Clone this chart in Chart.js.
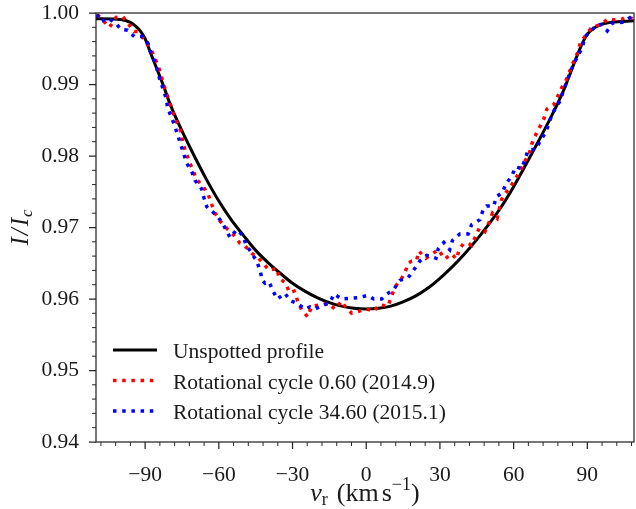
<!DOCTYPE html>
<html><head><meta charset="utf-8">
<script src="https://cdn.jsdelivr.net/npm/chart.js@4.4.1/dist/chart.umd.min.js"></script>
<style>html,body{margin:0;padding:0;background:#fff}#wrap{width:636px;height:509px}</style>
</head><body><div id="wrap"><canvas id="c" width="636" height="509"></canvas></div>
<script>
const seriesLabels = ["Unspotted profile", "Rotational cycle 0.60 (2014.9)", "Rotational cycle 34.60 (2015.1)"];

const unspottedV = [-110,-100,-96,-94,-92,-90,-88,-85,-82.5,-80,-75,-70,-65,-60,-55,-50,-45,-40,-35,-30,-25,-20,-15,-10,-5,0,5,10,15,20,25,30,35,40,45,50,55,60,65,70,75,80,85,88,90,92,95,100,109];
const unspottedI = [0.9992,0.9991,0.9987,0.9982,0.9975,0.9964,0.9946,0.9920,0.9898,0.9874,0.9835,0.9800,0.9767,0.9737,0.9711,0.9689,0.9668,0.9651,0.9636,0.9622,0.9611,0.9602,0.9595,0.9590,0.9587,0.9586,0.9587,0.9590,0.9596,0.9604,0.9615,0.9629,0.9645,0.9663,0.9683,0.9705,0.9729,0.9757,0.9788,0.9820,0.9853,0.9889,0.9933,0.9958,0.9970,0.9977,0.9983,0.9987,0.9989];

const cycle060V = [-109.5,-104.5,-101.8,-99.1,-94.4,-93.0,-89.6,-87.6,-85.8,-84.2,-82.2,-79.4,-78.1,-75.1,-74.7,-72.0,-69.0,-66.3,-64.3,-62.9,-61.5,-59.5,-56.8,-54.1,-51.4,-49.3,-46.6,-43.9,-41.9,-39.5,-36.4,-35.4,-32.7,-31.3,-29.3,-27.9,-26.3,-23.8,-22.2,-18.1,-15.5,-12.7,-10.0,-8.7,-5.9,-2.8,0.2,3.1,5.3,8.9,10.3,11.7,13.7,15.7,17.1,18.5,20.5,21.4,24.3,27.3,29.3,32.0,34.7,36.8,37.8,39.5,41.5,42.9,46.0,48.3,50.0,51.4,53.3,54.1,55.1,56.7,58.7,60.9,62.5,64.2,66.3,67.3,68.6,70.7,72.3,73.6,76.4,79.5,81.5,84.2,86.0,87.2,89.0,91.4,93.7,95.8,98.4,101.9,103.9,105.9,108.4];
const cycle060I = [0.9998,0.9980,0.9994,0.9995,0.9974,0.9974,0.9960,0.9949,0.9935,0.9921,0.9897,0.9869,0.9855,0.9832,0.9818,0.9792,0.9767,0.9757,0.9746,0.9732,0.9720,0.9709,0.9699,0.9690,0.9678,0.9674,0.9664,0.9657,0.9650,0.9640,0.9643,0.9629,0.9622,0.9609,0.9611,0.9597,0.9585,0.9575,0.9590,0.9592,0.9594,0.9586,0.9597,0.9590,0.9580,0.9583,0.9586,0.9583,0.9592,0.9590,0.9604,0.9617,0.9625,0.9636,0.9650,0.9653,0.9654,0.9667,0.9657,0.9664,0.9669,0.9656,0.9663,0.9656,0.9669,0.9677,0.9678,0.9675,0.9699,0.9694,0.9707,0.9720,0.9713,0.9725,0.9739,0.9748,0.9757,0.9769,0.9778,0.9791,0.9802,0.9816,0.9827,0.9841,0.9852,0.9866,0.9872,0.9895,0.9907,0.9930,0.9944,0.9959,0.9967,0.9978,0.9982,0.9984,0.9992,0.9990,0.9991,0.9995,0.9992];

const cycle3460V = [-109.7,-107.9,-105.2,-101.8,-99.8,-97.1,-94.4,-91.0,-88.9,-87.6,-85.8,-84.2,-82.8,-81.5,-80.8,-78.1,-74.4,-73.1,-71.0,-69.7,-67.0,-66.0,-64.9,-60.6,-58.2,-55.4,-52.7,-50.3,-48.9,-46.6,-44.6,-43.2,-42.3,-41.2,-39.5,-38.1,-36.2,-33.1,-31.0,-28.3,-24.9,-22.9,-20.9,-17.7,-14.8,-13.1,-10.0,-6.3,-2.8,0.4,3.1,6.3,8.5,11.3,13.7,17.1,19.4,21.8,24.6,28.4,29.3,31.6,34.0,35.1,38.1,41.5,42.9,46.3,47.6,49.0,51.9,53.0,55.5,56.8,59.1,60.9,63.2,64.6,65.9,69.3,70.9,73.1,74.4,75.8,77.5,79.1,80.1,82.9,84.6,86.0,88.0,89.0,91.3,93.4,95.5,98.1,100.2,104.3,106.6,108.6];
const cycle3460I = [0.9998,0.9988,0.9993,0.9985,0.9977,0.9976,0.9967,0.9967,0.9958,0.9944,0.9930,0.9909,0.9895,0.9881,0.9867,0.9844,0.9804,0.9790,0.9778,0.9766,0.9754,0.9741,0.9729,0.9716,0.9704,0.9686,0.9697,0.9689,0.9676,0.9664,0.9653,0.9640,0.9626,0.9622,0.9624,0.9612,0.9600,0.9608,0.9598,0.9594,0.9586,0.9589,0.9586,0.9591,0.9595,0.9607,0.9600,0.9601,0.9602,0.9605,0.9600,0.9600,0.9607,0.9614,0.9626,0.9630,0.9641,0.9653,0.9661,0.9657,0.9670,0.9679,0.9669,0.9682,0.9691,0.9691,0.9704,0.9711,0.9725,0.9730,0.9730,0.9743,0.9749,0.9761,0.9771,0.9785,0.9782,0.9795,0.9808,0.9810,0.9822,0.9833,0.9846,0.9860,0.9869,0.9878,0.9890,0.9916,0.9930,0.9939,0.9952,0.9967,0.9974,0.9982,0.9984,0.9975,0.9986,0.9987,0.9992,0.9996];

const xTickValues = [-90,-60,-30,0,30,60,90];
const yTickValues = [0.94,0.95,0.96,0.97,0.98,0.99,1.00];
const xRange = [-110, 109];
const yRange = [0.94, 1.00];
const xMinorStep = 6, yMinorStep = 0.002;

const FONT = "'Liberation Serif', 'DejaVu Serif', serif";
const TXT = '#1a1a1a';

function toXY(xs, ys){ return xs.map((v,i)=>({x:v, y:ys[i]})); }

function drawRuns(ctx, runs, x, y){
  let cx = x;
  for (const r of runs){
    ctx.font = (r.style||'') + ' ' + r.size + 'px ' + FONT;
    cx += (r.pre||0);
    ctx.fillText(r.t, cx, y + (r.dy||0));
    cx += ctx.measureText(r.t).width + (r.post||0);
  }
  return cx - x;
}
function measureRuns(ctx, runs){
  let w = 0;
  for (const r of runs){
    ctx.font = (r.style||'') + ' ' + r.size + 'px ' + FONT;
    w += (r.pre||0) + ctx.measureText(r.t).width + (r.post||0);
  }
  return w;
}

const decor = {
  id: 'decor',
  afterDraw(chart){
    const {ctx, chartArea:a, scales:{x, y}} = chart;
    ctx.save();
    ctx.strokeStyle = '#262626';
    ctx.lineWidth = 1.25;
    ctx.strokeRect(a.left, a.top, a.right - a.left, a.bottom - a.top);
    ctx.beginPath();
    xTickValues.forEach(v => { const p = x.getPixelForValue(v); ctx.moveTo(p, a.bottom); ctx.lineTo(p, a.bottom + 7); });
    yTickValues.forEach(v => { const p = y.getPixelForValue(v); ctx.moveTo(a.left, p); ctx.lineTo(a.left - 7, p); });
    ctx.stroke();
    ctx.lineWidth = 1;
    ctx.beginPath();
    for (let k = Math.ceil(xRange[0]/xMinorStep); k*xMinorStep <= xRange[1]; k++){
      const v = k*xMinorStep; if (v % 30 === 0) continue;
      const p = x.getPixelForValue(v); ctx.moveTo(p, a.bottom); ctx.lineTo(p, a.bottom + 4);
    }
    for (let k = Math.round(yRange[0]/yMinorStep); k*yMinorStep <= yRange[1] + 1e-9; k++){
      if (k % 5 === 0) continue;
      const p = y.getPixelForValue(k*yMinorStep); ctx.moveTo(a.left, p); ctx.lineTo(a.left - 4, p);
    }
    ctx.stroke();

    const ds = chart.data.datasets;
    const rowsLine = [350, 380.5, 411];
    const rowsText = [358, 388.5, 419];
    ds.forEach((d, i) => {
      ctx.save();
      ctx.strokeStyle = d.borderColor;
      ctx.lineWidth = d.borderWidth;
      ctx.setLineDash(d.borderDash || []);
      ctx.beginPath(); ctx.moveTo(113, rowsLine[i]); ctx.lineTo(157, rowsLine[i]); ctx.stroke();
      ctx.restore();
      ctx.fillStyle = TXT;
      ctx.font = '21.5px ' + FONT;
      ctx.textAlign = 'left'; ctx.textBaseline = 'alphabetic';
      ctx.fillText(d.label, 173, rowsText[i]);
    });

    ctx.fillStyle = TXT; ctx.textAlign = 'left'; ctx.textBaseline = 'alphabetic';
    const xr = [
      {t:'v', size:26, style:'italic'},
      {t:'r', size:18, dy:4, post:9},
      {t:'(km', size:26, post:3},
      {t:'s', size:26},
      {t:'\u22121', size:18, dy:-11},
      {t:')', size:26}
    ];
    const xw = measureRuns(ctx, xr);
    drawRuns(ctx, xr, (a.left + a.right)/2 - xw/2, 501);

    ctx.save();
    ctx.translate(28, (a.top + a.bottom)/2);
    ctx.rotate(-Math.PI/2);
    const yr = [
      {t:'I', size:25, style:'italic', post:2},
      {t:'/', size:25, style:'italic', post:2},
      {t:'I', size:25, style:'italic', post:1},
      {t:'c', size:17, style:'italic', dy:4}
    ];
    const yw = measureRuns(ctx, yr);
    drawRuns(ctx, yr, -yw/2, 0);
    ctx.restore();
    ctx.restore();
  }
};

new Chart(document.getElementById('c').getContext('2d'), {
  type: 'line',
  data: { datasets: [
    {label: seriesLabels[0], data: toXY(unspottedV, unspottedI), borderColor:'#000000', borderWidth:3, pointRadius:0, cubicInterpolationMode:'monotone', order:3},
    {label: seriesLabels[1], data: toXY(cycle060V, cycle060I), borderColor:'#ff0000', borderWidth:3.5, borderDash:[3.5,5.7], pointRadius:0, tension:0, order:2},
    {label: seriesLabels[2], data: toXY(cycle3460V, cycle3460I), borderColor:'#0000ff', borderWidth:3.5, borderDash:[3.5,5.7], pointRadius:0, tension:0, order:1}
  ]},
  options: {
    responsive:false, devicePixelRatio:1, animation:false,
    layout:{padding:{left:0, top:13, right:2, bottom:0}},
    plugins:{legend:{display:false}, tooltip:{enabled:false}},
    scales:{
      x:{type:'linear', min:xRange[0], max:xRange[1],
         grid:{display:false}, border:{display:false},
         afterBuildTicks: s => { s.ticks = xTickValues.map(v => ({value:v})); },
         afterFit: s => { s.height = 67; s.paddingLeft = 0; s.paddingRight = 0; },
         ticks:{font:{family:FONT, size:21.5}, color:TXT, padding:12, maxRotation:0, autoSkip:false,
                callback: v => v < 0 ? '\u2212' + Math.abs(v) : String(v)}},
      y:{type:'linear', min:yRange[0], max:yRange[1],
         grid:{display:false}, border:{display:false},
         afterBuildTicks: s => { s.ticks = yTickValues.map(v => ({value:v})); },
         afterFit: s => { s.width = 96; s.paddingTop = 0; s.paddingBottom = 0; },
         ticks:{font:{family:FONT, size:21.5}, color:TXT, padding:9, autoSkip:false,
                callback: v => Number(v).toFixed(2)}}
    }
  },
  plugins:[decor]
});
</script></body></html>
